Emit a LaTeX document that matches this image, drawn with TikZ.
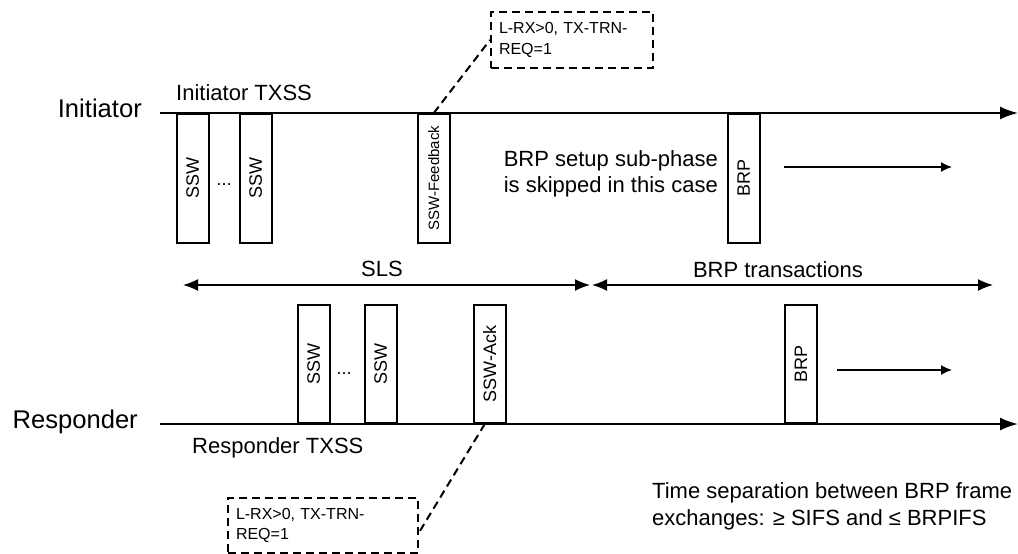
\documentclass[tikz,border=0pt]{standalone}
\usepackage{fontspec}
\setmainfont{Liberation Sans}
\usepackage{graphicx}
\usetikzlibrary{arrows.meta,positioning}

\tikzset{
	axis/.style={line width=2pt, -{Latex[length=18pt,width=13pt]}},
	frame/.style={draw, line width=1.6pt, minimum width=32pt, inner sep=0pt, font=\fontsize{18}{18}\selectfont},
	iframe/.style={frame, minimum height=129pt, anchor=north west},
	rframe/.style={frame, minimum height=118pt, anchor=south west},
	span/.style={line width=1.5pt, {Latex[length=15pt,width=12pt]}-{Latex[length=15pt,width=12pt]}},
	onward/.style={line width=1.5pt, -{Latex[length=11pt,width=10pt]}},
	note/.style={draw, line width=2pt, dash pattern=on 8pt off 5pt, anchor=north west, align=left, inner xsep=8pt, font=\fontsize{16}{21}\selectfont},
	leader/.style={line width=2pt, dash pattern=on 8pt off 5pt},
	lbl/.style={inner sep=0pt, font=\fontsize{22}{26}\selectfont},
	side/.style={inner sep=0pt, font=\fontsize{25.6}{30}\selectfont},
	dots/.style={inner sep=0pt, anchor=base, font=\fontsize{18}{18}\selectfont}
}

\begin{document}
\begin{tikzpicture}[x=1pt, y=-1pt]
		% Fix the page to the reference size
		\useasboundingbox (0,0) rectangle (1018,554);
		
		% Time lines of the two stations
		\node[side, anchor=base east] (ini) at (142,117) {Initiator};
		\node[side, anchor=base east] (res) at (138,428) {Responder};
		\coordinate (ini0) at (160,113); \coordinate (ini1) at (1018,113);
		\coordinate (res0) at (160,424); \coordinate (res1) at (1018,424);
		\draw[axis] (ini0) -- (ini1);
		\draw[axis] (res0) -- (res1);
		\node[lbl, anchor=base west] (itxss) at (176,100) {Initiator TXSS};
		\node[lbl, anchor=base west] (rtxss) at (192,453) {Responder TXSS};
		
		% Initiator frames
		\node[iframe] (issw1) at (176,113) {\rotatebox{90}{SSW}};
		\node[dots] (idots) at (224,185) {...};
		\node[iframe] (issw2) at (239,113) {\rotatebox{90}{SSW}};
		\node[iframe, font=\fontsize{15}{15}\selectfont] (fb) at (417,113) {\rotatebox{90}{SSW-Feedback}};
		\node[iframe] (ibrp) at (727,113) {\rotatebox{90}{BRP}};
		\coordinate (inext0) at (784,167); \coordinate (inext1) at (952,167);
		\draw[onward] (inext0) -- (inext1);
		\node[lbl, anchor=east, align=right] (skip) at (718,174) {BRP setup sub-phase\\is skipped in this case};
		
		% Responder frames
		\node[rframe] (rssw1) at (297,424) {\rotatebox{90}{SSW}};
		\node[dots] (rdots) at (344,374) {...};
		\node[rframe] (rssw2) at (364,424) {\rotatebox{90}{SSW}};
		\node[rframe] (ack) at (473,424) {\rotatebox{90}{SSW-Ack}};
		\node[rframe] (rbrp) at (784,424) {\rotatebox{90}{BRP}};
		\coordinate (rnext0) at (837,370); \coordinate (rnext1) at (952,370);
		\draw[onward] (rnext0) -- (rnext1);
		
		% Phases
		\coordinate (sls0) at (183,285); \coordinate (sls1) at (590,285);
		\coordinate (brp0) at (592,285); \coordinate (brp1) at (993,285);
		\draw[span] (sls0) -- (sls1);
		\draw[span] (brp0) -- (brp1);
		\node[lbl, anchor=base] (sls) at (382,276) {SLS};
		\node[lbl, anchor=base] (trans) at (778,277) {BRP transactions};
		
		% Notes on the feedback and ack frames
		\node[note, text width=146pt, minimum height=56pt] (note1) at (490,11) {L-RX>0, TX-TRN-\\REQ=1};
		\node[note, text width=174pt, minimum height=55pt, font=\fontsize{16}{20}\selectfont] (note2) at (227,497) {L-RX>0, TX-TRN-\\REQ=1};
		\draw[leader] (fb.north) -- (note1.west);
		\draw[leader] ([xshift=-5pt]ack.south) -- ([yshift=-7pt]note2.east);
		
		\node[lbl, anchor=west, align=left, font=\fontsize{22}{27}\selectfont] (sep) at (652,506) {Time separation between BRP frame\\exchanges: ≥ SIFS and ≤ BRPIFS};
	\end{tikzpicture}
\end{document}
